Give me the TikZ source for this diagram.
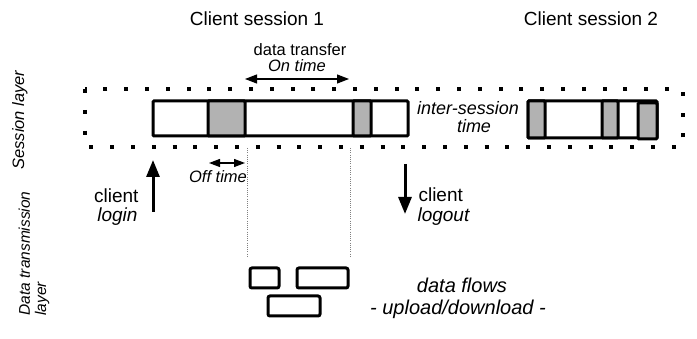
\documentclass[tikz,border=0pt]{standalone}
\usepackage{fontspec}
\setmainfont{Liberation Sans}
\usetikzlibrary{arrows.meta}
\definecolor{blockgray}{RGB}{178,178,178}
\tikzset{
  x=1pt, y=-1pt,
  bar/.style={line width=3pt, draw=black, fill=white, rounded corners=1pt},
  grayblock/.style={line width=3pt, draw=black, fill=blockgray, rounded corners=1pt},
  flowbox/.style={line width=3pt, draw=black, rounded corners=2pt},
  sessiondots/.style={line width=4pt, dash pattern=on 4pt off 16.8pt},
  guide/.style={gray, line width=0.8pt, dash pattern=on 1pt off 1.2pt},
  bigarrow/.style={line width=3pt, -{Triangle[width=13pt,length=17pt]}},
  smallarrow/.style={line width=1.2pt, {Triangle[width=9pt,length=12pt]}-{Triangle[width=9pt,length=12pt]}},
  title/.style={font=\fontsize{19}{22}\selectfont, anchor=base},
  note/.style={font=\fontsize{16.5}{19}\selectfont\itshape, anchor=base},
  lbl/.style={font=\fontsize{19}{22}\selectfont},
  layer/.style={font=\fontsize{16.5}{19}\selectfont\itshape, rotate=90},
}
\begin{document}
\begin{tikzpicture}
\useasboundingbox (0,0) rectangle (697,339);

% session layer dotted frame
\draw[sessiondots] (85,89) rectangle (683,147);

% session 1
\draw[bar] (153,101) rectangle (408,136);
\draw[grayblock] (208,101) rectangle (245,136);
\draw[grayblock] (353,101) rectangle (371,136);

% session 2
\draw[bar] (528,101) rectangle (657,138);
\draw[grayblock] (528,101) rectangle (545,138);
\draw[grayblock] (602,101) rectangle (618,138);
\draw[grayblock] (638,103) rectangle (657,139);

% titles
\node[title] (t1) at (257,26) {Client session 1};
\node[title] (t2) at (591,26) {Client session 2};

% on time
\node[font=\fontsize{16.5}{19}\selectfont, anchor=base, inner sep=0pt] (dt) at (300,56) {data transfer};
\node[note, inner sep=0pt] (ont) at (297,72) {On time};
\coordinate (onA) at (245,79);
\coordinate (onB) at (349,79);
\draw[smallarrow] (onA) -- (onB);

% off time
\coordinate (offA) at (209,163);
\coordinate (offB) at (245,163);
\draw[line width=1.2pt, {Triangle[width=8pt,length=11pt]}-{Triangle[width=8pt,length=11pt]}] (offA) -- (offB);
\node[note] (offt) at (218,183) {Off time};

% inter-session
\node[font=\fontsize{18}{21}\selectfont\itshape, anchor=base] (is1) at (468,115) {inter-session};
\node[font=\fontsize{18}{21}\selectfont\itshape, anchor=base] (is2) at (474,133) {time};

% guides
\coordinate (g1t) at (247,148);
\coordinate (g1b) at (247,256);
\coordinate (g2t) at (350,148);
\coordinate (g2b) at (350,256);
\draw[guide] (g1t) -- (g1b);
\draw[guide] (g2t) -- (g2b);

% login / logout
\coordinate (liB) at (153,212);
\coordinate (liT) at (153,160);
\draw[bigarrow] (liB) -- (liT);
\node[lbl, anchor=base east] (cl1) at (142,203) {client};
\node[lbl, anchor=base east] (lg1) at (141,222) {\itshape login};

\coordinate (loT) at (405,164);
\coordinate (loB) at (405,214);
\draw[bigarrow] (loT) -- (loB);
\node[lbl, anchor=base west] (cl2) at (415,202) {client};
\node[lbl, anchor=base west] (lg2) at (414,222) {\itshape logout};

% data flows
\draw[flowbox] (250,268) rectangle (279,288);
\draw[flowbox] (297,268) rectangle (348,288);
\draw[flowbox] (268,296) rectangle (320,316);
\node[font=\fontsize{20}{23}\selectfont\itshape, anchor=base] (df1) at (462,293) {data flows};
\node[font=\fontsize{20}{23}\selectfont\itshape, anchor=base] (df2) at (458,315) {- upload/download -};

% layer labels
\node[layer, anchor=base] (sl) at (24,120) {Session layer};
\node[layer, anchor=base west, font=\fontsize{15.5}{18}\selectfont\itshape] (dl1) at (30,319) {Data transmission};
\node[layer, anchor=base west, font=\fontsize{15.5}{18}\selectfont\itshape] (dl2) at (46,319) {layer};
\end{tikzpicture}
\end{document}
